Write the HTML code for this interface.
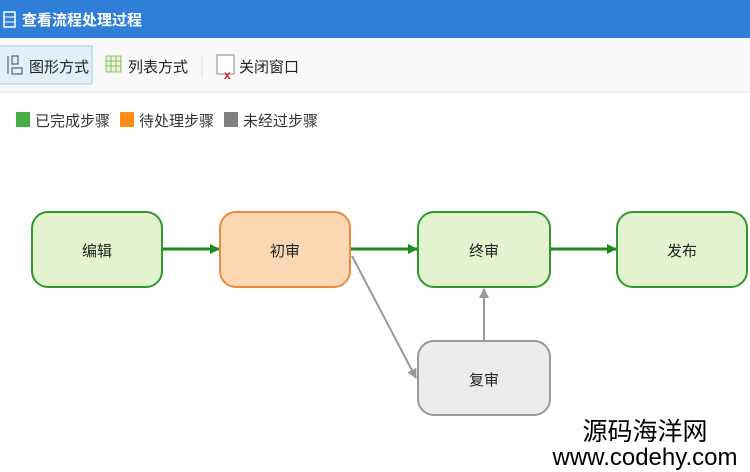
<!DOCTYPE html>
<html><head><meta charset="utf-8"><style>
body{margin:0;width:750px;height:472px;overflow:hidden;background:#fff;font-family:"Liberation Sans","Noto Sans CJK SC",sans-serif;}
</style></head><body>
<svg width="750" height="472" xmlns="http://www.w3.org/2000/svg" style="position:absolute;left:0;top:0" font-family="Liberation Sans, Noto Sans CJK SC, sans-serif">
<rect x="0" y="0" width="750" height="38" fill="#2f7fd8"/>
<rect x="4" y="12" width="11" height="15" fill="none" stroke="#fff" stroke-width="1.5"/>
<line x1="4" y1="17" x2="15" y2="17" stroke="#fff"/><line x1="4" y1="22" x2="15" y2="22" stroke="#fff"/>
<text x="22" y="25" font-size="15" fill="#fff" font-weight="bold">查看流程处理过程</text>
<rect x="0" y="38" width="750" height="54" fill="#f8f9fa"/>
<line x1="0" y1="92" x2="750" y2="92" stroke="#e6e6e6"/>
<rect x="-2" y="46" width="94" height="38" fill="#e2eef8" stroke="#a9c8e4"/>
<path d="M8 56 V74 M12 56 H18 V64 H12 Z M12 68 H22 V74 H12 Z" stroke="#666" fill="none" stroke-width="1.2"/>
<text x="29" y="72" font-size="15" fill="#222">图形方式</text>
<rect x="106" y="56" width="15" height="16" fill="#e8f3d8" stroke="#8fbc6a"/>
<path d="M106 61H121M106 66H121M111 56V72M116 56V72" stroke="#8fbc6a"/>
<text x="128" y="72" font-size="15" fill="#222">列表方式</text>
<line x1="202" y1="55" x2="202" y2="78" stroke="#ddd"/>
<rect x="217" y="55" width="17" height="19" fill="#fff" stroke="#888"/>
<text x="224" y="79" font-size="12" fill="#d22" font-weight="bold">x</text>
<text x="239" y="72" font-size="15" fill="#222">关闭窗口</text>
<rect x="16" y="112" width="14" height="15" fill="#44b044"/>
<text x="35" y="126" font-size="15" fill="#333">已完成步骤</text>
<rect x="120" y="112" width="14" height="15" fill="#ff8c1a"/>
<text x="139" y="126" font-size="15" fill="#333">待处理步骤</text>
<rect x="224" y="112" width="14" height="15" fill="#808080"/>
<text x="243" y="126" font-size="15" fill="#333">未经过步骤</text>
<defs>
<marker id="g" markerWidth="10" markerHeight="10" refX="9" refY="5" orient="auto" markerUnits="userSpaceOnUse"><path d="M0 0L10 5L0 10Z" fill="#1d8a1d"/></marker>
<marker id="h" markerWidth="10" markerHeight="10" refX="9" refY="5" orient="auto" markerUnits="userSpaceOnUse"><path d="M0 0L10 5L0 10Z" fill="#999"/></marker>
</defs>
<g stroke-width="3" stroke="#1d8a1d" marker-end="url(#g)">
<line x1="162" y1="249" x2="219" y2="249"/>
<line x1="350" y1="249" x2="417" y2="249"/>
<line x1="550" y1="249" x2="616" y2="249"/>
</g>
<line x1="352" y1="256" x2="416" y2="378" stroke="#999" stroke-width="2" marker-end="url(#h)"/>
<line x1="484" y1="341" x2="484" y2="289" stroke="#999" stroke-width="2" marker-end="url(#h)"/>
<rect x="32" y="212" width="130" height="75" rx="16" fill="#e3f2cf" stroke="#2e9a2e" stroke-width="2"/>
<rect x="220" y="212" width="130" height="75" rx="16" fill="#fcd7b4" stroke="#ec8a3a" stroke-width="2"/>
<rect x="418" y="212" width="132" height="75" rx="16" fill="#e3f2cf" stroke="#2e9a2e" stroke-width="2"/>
<rect x="617" y="212" width="130" height="75" rx="16" fill="#e3f2cf" stroke="#2e9a2e" stroke-width="2"/>
<rect x="418" y="341" width="132" height="74" rx="16" fill="#ececec" stroke="#999" stroke-width="2"/>
<g font-size="15" fill="#222" text-anchor="middle">
<text x="97" y="256">编辑</text>
<text x="285" y="256">初审</text>
<text x="484" y="256">终审</text>
<text x="682" y="256">发布</text>
<text x="484" y="385">复审</text>
</g>
<text x="645" y="440" font-size="25" fill="#000" text-anchor="middle">源码海洋网</text>
<text x="645" y="465" font-size="24" fill="#000" text-anchor="middle">www.codehy.com</text>
</svg>
</body></html>
